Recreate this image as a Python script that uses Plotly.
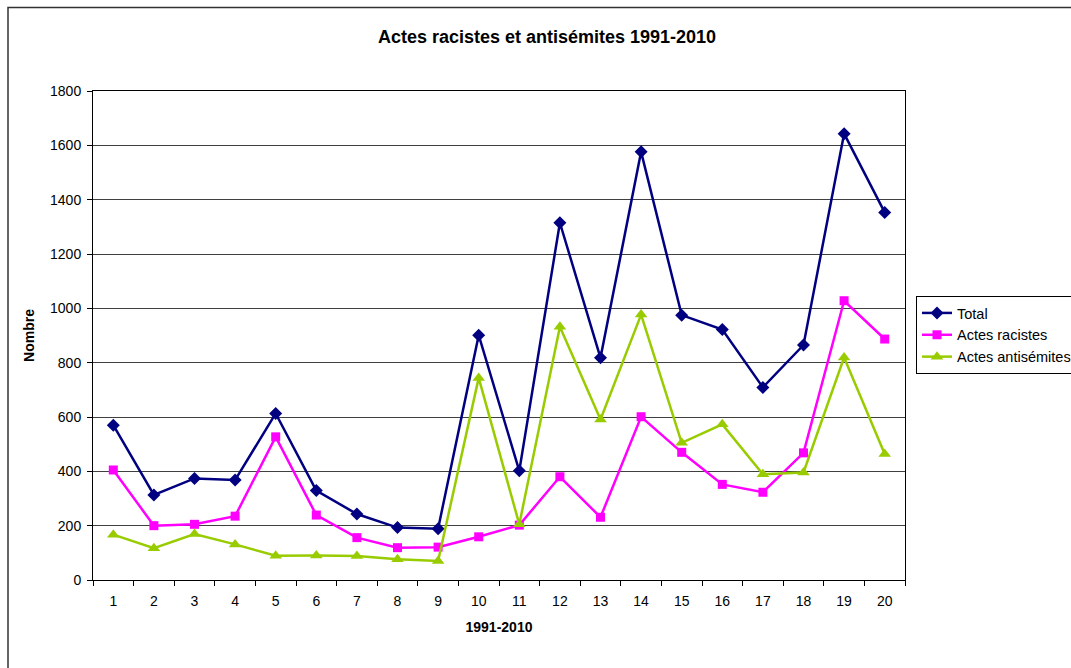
import plotly.graph_objects as go

categories = [str(i) for i in range(1, 21)]
total = [570, 313, 374, 368, 613, 329, 243, 193, 189, 901, 402, 1315, 818, 1576, 975, 922, 709, 865, 1643, 1353]
racistes = [405, 200, 205, 235, 527, 239, 156, 119, 121, 159, 202, 380, 231, 601, 470, 352, 323, 468, 1028, 887]
antisemites = [167, 117, 169, 131, 89, 90, 88, 76, 70, 744, 205, 932, 591, 977, 505, 573, 389, 396, 819, 464]

FONT = "Liberation Sans, Arial, sans-serif"

fig = go.Figure()
fig.add_trace(go.Scatter(x=categories, y=total, name="Total", mode="lines+markers",
                         line=dict(color="#000080", width=2.5),
                         marker=dict(symbol="diamond", size=10, color="#000080")))
fig.add_trace(go.Scatter(x=categories, y=racistes, name="Actes racistes", mode="lines+markers",
                         line=dict(color="#FF00FF", width=2.5),
                         marker=dict(symbol="square", size=9, color="#FF00FF")))
fig.add_trace(go.Scatter(x=categories, y=antisemites, name="Actes antisémites", mode="lines+markers",
                         line=dict(color="#99CC00", width=2.5),
                         marker=dict(symbol="triangle-up", size=11, color="#99CC00")))

L, R, T, B = 93, 905, 91, 580
W, H = 1071, 668
pw, ph = R - L, B - T

fig.update_layout(
    width=W, height=H,
    margin=dict(l=L, r=W - R, t=T, b=H - B, autoexpand=False),
    paper_bgcolor="white", plot_bgcolor="white",
    font=dict(family=FONT, size=14, color="black"),
    title=dict(text="<b>Actes racistes et antisémites 1991-2010</b>",
               font=dict(family=FONT, size=18, color="black"),
               xref="paper", x=(547 - L) / pw, xanchor="center",
               yref="container", y=1 - 37 / H, yanchor="middle"),
    showlegend=True,
    legend=dict(x=(916 - L) / pw, xanchor="left", y=(B - 296) / ph, yanchor="top",
                bordercolor="black", borderwidth=1, bgcolor="white",
                font=dict(family=FONT, size=14.5, color="black"),
                tracegroupgap=0, itemwidth=30),
    xaxis=dict(type="category", range=[-0.5, 19.5], tickson="boundaries",
               ticks="outside", ticklen=5, tickcolor="black", tickwidth=1,
               showline=True, linecolor="black", linewidth=1, mirror=True,
               showgrid=False, zeroline=False,
               tickfont=dict(family=FONT, size=14, color="black"),
               ticklabelstandoff=8,
               title=dict(text="<b>1991-2010</b>", font=dict(family=FONT, size=14, color="black"), standoff=14)),
    yaxis=dict(range=[0, 1800], dtick=200, tick0=0,
               ticks="outside", ticklen=5, tickcolor="black", tickwidth=1,
               showline=True, linecolor="black", linewidth=1, mirror=True,
               showgrid=True, gridcolor="#404040", gridwidth=1, zeroline=False,
               tickfont=dict(family=FONT, size=14, color="black"),
               ticklabelstandoff=3,
               title=dict(text="<b>Nombre</b>", font=dict(family=FONT, size=14, color="black"), standoff=12)),
    shapes=[dict(type="rect", xref="paper", yref="paper",
                 x0=(8 - L) / pw, x1=(1200 - L) / pw,
                 y0=(B - 800) / ph, y1=(B - 7.5) / ph,
                 line=dict(color="#333333", width=1.5), fillcolor="rgba(0,0,0,0)", layer="below")],
)

fig.write_html("out.html", config={"displayModeBar": False},
               post_script="document.body.style.margin='0';document.body.style.overflow='hidden';")
